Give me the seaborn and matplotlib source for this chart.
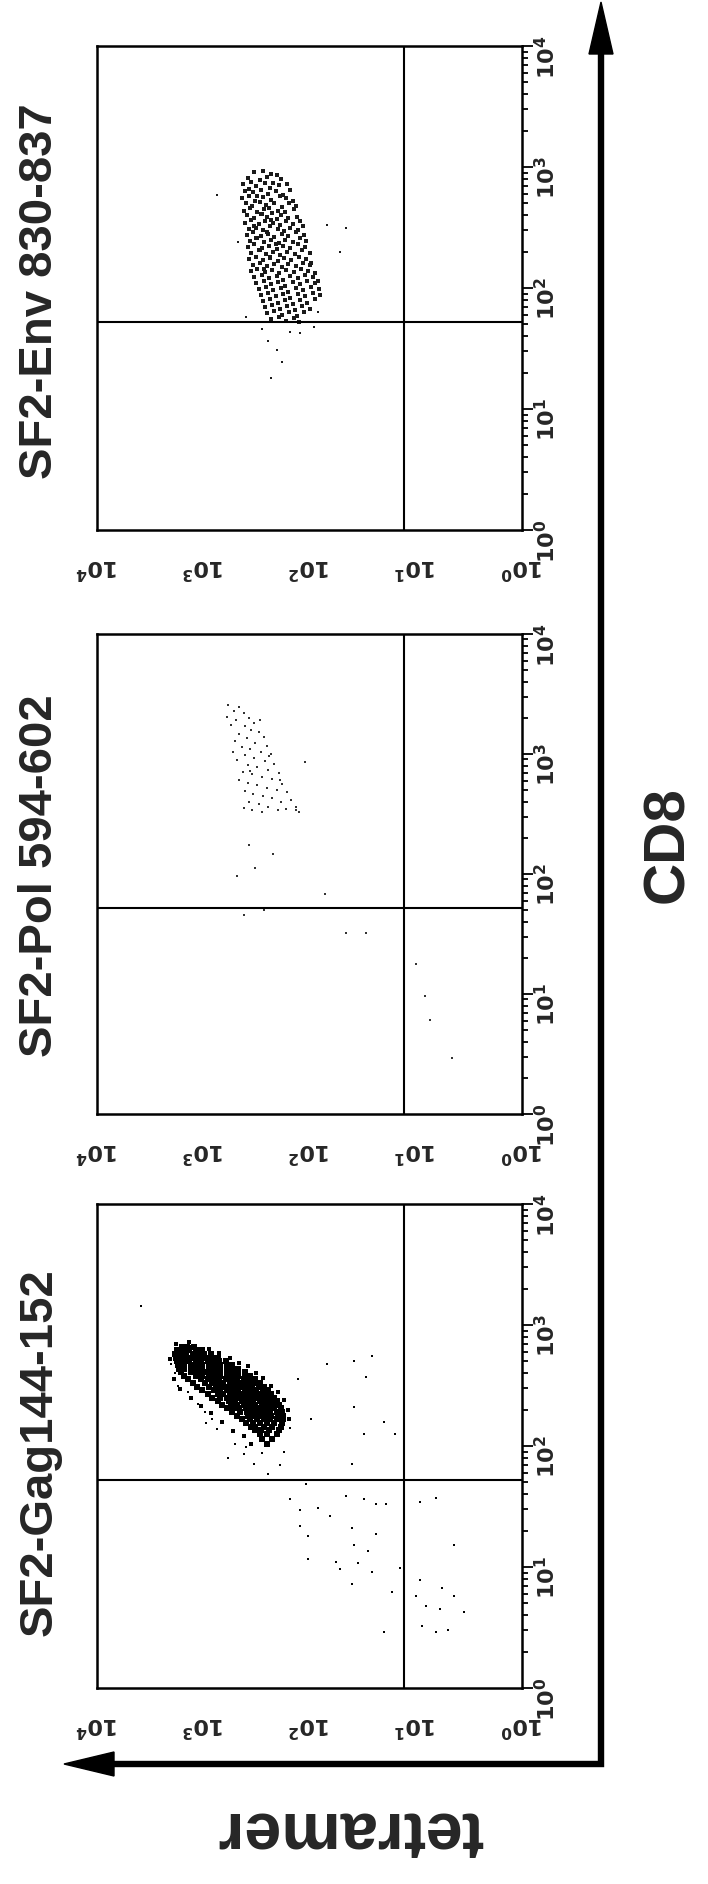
import numpy as np
import pandas as pd
import matplotlib
matplotlib.use("Agg")
import matplotlib.pyplot as plt
import seaborn as sns
from matplotlib.ticker import LogLocator, FuncFormatter, NullFormatter, FixedLocator

# -----------------------------
# data: (log10 tetramer, log10 CD8)
# -----------------------------
titles = ["SF2-Env 830-837", "SF2-Pol 594-602", "SF2-Gag144-152"]
quad_tetramer = 13
quad_cd8 = 52
decades = [0, 1, 2, 3, 4]

env_cluster = [
    (2.52, 2.96), (2.36, 2.94), (2.44, 2.97), (2.31, 2.93),
    (2.58, 2.91), (2.47, 2.89), (2.40, 2.92), (2.27, 2.90), (2.55, 2.88), (2.34, 2.87),
    (2.63, 2.86), (2.50, 2.84), (2.42, 2.87), (2.37, 2.83), (2.29, 2.85), (2.21, 2.86), (2.57, 2.82),
    (2.61, 2.80), (2.53, 2.79), (2.46, 2.81), (2.39, 2.78), (2.32, 2.80), (2.25, 2.77), (2.18, 2.81), (2.49, 2.76),
    (2.64, 2.74), (2.57, 2.76), (2.44, 2.75), (2.36, 2.73), (2.28, 2.76), (2.22, 2.74), (2.51, 2.72), (2.16, 2.72),
    (2.60, 2.70), (2.54, 2.68), (2.47, 2.71), (2.41, 2.69), (2.33, 2.70), (2.26, 2.67), (2.19, 2.70), (2.38, 2.66), (2.13, 2.68),
    (2.62, 2.64), (2.56, 2.66), (2.49, 2.63), (2.43, 2.65), (2.35, 2.62), (2.30, 2.64), (2.23, 2.63), (2.15, 2.65), (2.45, 2.61),
    (2.59, 2.60), (2.52, 2.58), (2.46, 2.61), (2.40, 2.59), (2.31, 2.57), (2.27, 2.60), (2.20, 2.58), (2.12, 2.59), (2.36, 2.56),
    (2.61, 2.54), (2.55, 2.56), (2.48, 2.53), (2.42, 2.55), (2.34, 2.54), (2.28, 2.52), (2.22, 2.55), (2.16, 2.53), (2.09, 2.55), (2.52, 2.51),
    (2.57, 2.49), (2.50, 2.50), (2.44, 2.48), (2.37, 2.51), (2.30, 2.49), (2.24, 2.47), (2.18, 2.50), (2.11, 2.48), (2.06, 2.51), (2.40, 2.46),
    (2.59, 2.44), (2.53, 2.46), (2.46, 2.43), (2.39, 2.45), (2.33, 2.42), (2.26, 2.45), (2.20, 2.43), (2.13, 2.46), (2.05, 2.44), (2.49, 2.41),
    (2.56, 2.39), (2.50, 2.41), (2.43, 2.38), (2.36, 2.40), (2.29, 2.37), (2.23, 2.40), (2.16, 2.38), (2.09, 2.41), (2.03, 2.39), (2.32, 2.36),
    (2.58, 2.34), (2.52, 2.36), (2.45, 2.33), (2.38, 2.35), (2.31, 2.32), (2.25, 2.35), (2.18, 2.33), (2.11, 2.36), (2.04, 2.34), (2.47, 2.31),
    (2.55, 2.29), (2.48, 2.31), (2.41, 2.28), (2.34, 2.30), (2.28, 2.27), (2.21, 2.30), (2.14, 2.28), (2.07, 2.31), (2.00, 2.29), (2.37, 2.26),
    (2.57, 2.24), (2.50, 2.26), (2.44, 2.23), (2.37, 2.25), (2.30, 2.22), (2.24, 2.25), (2.17, 2.23), (2.10, 2.26), (2.03, 2.24), (1.99, 2.21),
    (2.53, 2.19), (2.47, 2.21), (2.40, 2.18), (2.33, 2.20), (2.26, 2.17), (2.20, 2.20), (2.13, 2.18), (2.06, 2.21), (2.00, 2.19), (2.43, 2.16),
    (2.55, 2.14), (2.49, 2.16), (2.42, 2.13), (2.35, 2.15), (2.29, 2.12), (2.22, 2.15), (2.15, 2.13), (2.08, 2.16), (2.01, 2.14), (1.95, 2.12),
    (2.52, 2.09), (2.45, 2.11), (2.38, 2.08), (2.31, 2.10), (2.25, 2.07), (2.18, 2.10), (2.11, 2.08), (2.04, 2.11), (1.97, 2.09), (1.92, 2.06),
    (2.50, 2.04), (2.43, 2.06), (2.36, 2.03), (2.30, 2.05), (2.23, 2.02), (2.16, 2.05), (2.09, 2.03), (2.02, 2.06), (1.95, 2.04),
    (2.48, 1.99), (2.41, 2.01), (2.34, 1.98), (2.27, 2.00), (2.20, 1.97), (2.13, 2.00), (2.06, 1.98), (1.99, 2.01), (1.91, 1.99),
    (2.46, 1.94), (2.39, 1.96), (2.32, 1.93), (2.25, 1.95), (2.18, 1.92), (2.11, 1.95), (2.04, 1.93), (1.97, 1.96), (1.90, 1.94),
    (2.44, 1.89), (2.37, 1.91), (2.30, 1.88), (2.23, 1.90), (2.16, 1.87), (2.09, 1.90), (2.02, 1.88), (1.95, 1.91),
    (2.42, 1.84), (2.35, 1.86), (2.28, 1.83), (2.21, 1.85), (2.14, 1.82), (2.07, 1.85), (2.00, 1.83),
    (2.40, 1.79), (2.33, 1.81), (2.26, 1.78), (2.19, 1.80), (2.12, 1.77), (2.05, 1.80),
    (2.36, 1.74), (2.29, 1.76), (2.22, 1.73), (2.15, 1.75), (2.10, 1.72),
]
env_sparse = [
    (2.87, 2.77), (1.84, 2.52), (1.66, 2.50), (1.71, 2.30), (2.67, 2.38),
    (2.39, 1.56), (2.26, 1.39), (2.36, 1.26), (2.18, 1.64), (2.09, 1.63),
    (1.96, 1.68), (2.45, 1.66), (2.31, 1.49), (1.92, 1.80), (2.60, 1.76),
]

pol_cluster = [
    (2.77, 3.41), (2.66, 3.39), (2.71, 3.36), (2.62, 3.34), (2.78, 3.31), (2.57, 3.30),
    (2.69, 3.28), (2.52, 3.26), (2.74, 3.24), (2.61, 3.23), (2.55, 3.20), (2.48, 3.18),
    (2.66, 3.17), (2.43, 3.14), (2.59, 3.13), (2.70, 3.11), (2.51, 3.09), (2.40, 3.07),
    (2.64, 3.06), (2.56, 3.04), (2.46, 3.02), (2.36, 3.00), (2.61, 2.99), (2.52, 2.97),
    (2.68, 2.95), (2.42, 2.94), (2.33, 2.92), (2.58, 2.91), (2.49, 2.89), (2.39, 2.87),
    (2.63, 2.85), (2.29, 2.84), (2.54, 2.83), (2.45, 2.81), (2.35, 2.79), (2.66, 2.78),
    (2.58, 2.76), (2.26, 2.75), (2.49, 2.74), (2.40, 2.72), (2.31, 2.70), (2.61, 2.69),
    (2.21, 2.68), (2.53, 2.67), (2.44, 2.65), (2.35, 2.63), (2.17, 2.62), (2.27, 2.60),
    (2.57, 2.60), (2.48, 2.58), (2.13, 2.56), (2.39, 2.56), (2.22, 2.54), (2.30, 2.53),
    (2.54, 2.53), (2.10, 2.52), (2.45, 2.52), (2.62, 2.55), (2.72, 3.02), (2.47, 3.28),
    (2.38, 2.98), (2.56, 2.86), (2.28, 2.78),
]
pol_sparse = [
    (2.57, 2.24), (2.34, 2.17), (2.51, 2.05), (2.68, 1.98), (1.85, 1.83),
    (2.62, 1.66), (2.43, 1.70), (1.66, 1.51), (1.47, 1.51), (2.04, 2.93),
    (1.00, 1.25), (0.91, 0.98), (0.87, 0.78), (0.66, 0.47), (2.13, 2.53),
]

# dense Gag blob, one row of tetramer values per CD8 level
gag_core_rows = [
    (2.82, [3.09, 3.15, 3.20]),
    (2.79, [3.01, 3.07, 3.13, 3.19, 3.25]),
    (2.76, [2.93, 2.99, 3.05, 3.10, 3.16, 3.22, 3.27]),
    (2.73, [2.86, 2.92, 2.97, 3.03, 3.09, 3.14, 3.20, 3.26]),
    (2.70, [2.79, 2.85, 2.90, 2.96, 3.02, 3.07, 3.13, 3.19, 3.25]),
    (2.67, [2.73, 2.78, 2.84, 2.90, 2.95, 3.01, 3.07, 3.12, 3.18, 3.24]),
    (2.64, [2.67, 2.72, 2.78, 2.84, 2.89, 2.95, 3.01, 3.06, 3.12, 3.18, 3.23]),
    (2.61, [2.61, 2.67, 2.72, 2.78, 2.84, 2.89, 2.95, 3.00, 3.06, 3.12, 3.21]),
    (2.58, [2.56, 2.61, 2.67, 2.73, 2.78, 2.84, 2.90, 2.95, 3.01, 3.07, 3.18]),
    (2.55, [2.51, 2.57, 2.62, 2.68, 2.74, 2.79, 2.85, 2.91, 2.96, 3.02, 3.14]),
    (2.52, [2.47, 2.52, 2.58, 2.64, 2.69, 2.75, 2.81, 2.86, 2.92, 2.98, 3.10]),
    (2.49, [2.43, 2.48, 2.54, 2.60, 2.65, 2.71, 2.77, 2.82, 2.88, 2.95, 3.06]),
    (2.46, [2.39, 2.44, 2.50, 2.56, 2.61, 2.67, 2.73, 2.78, 2.84, 2.90, 3.01]),
    (2.43, [2.36, 2.41, 2.47, 2.52, 2.58, 2.64, 2.69, 2.75, 2.81, 2.86, 2.96]),
    (2.40, [2.33, 2.38, 2.44, 2.49, 2.55, 2.61, 2.66, 2.72, 2.78, 2.84, 2.92]),
    (2.37, [2.31, 2.36, 2.42, 2.47, 2.53, 2.58, 2.64, 2.70, 2.76, 2.86]),
    (2.34, [2.29, 2.34, 2.40, 2.45, 2.51, 2.56, 2.62, 2.68, 2.74, 2.82]),
    (2.31, [2.27, 2.33, 2.38, 2.44, 2.49, 2.55, 2.60, 2.66, 2.72, 2.78]),
    (2.28, [2.26, 2.31, 2.37, 2.42, 2.48, 2.53, 2.59, 2.65, 2.73]),
    (2.25, [2.25, 2.30, 2.36, 2.41, 2.47, 2.52, 2.58, 2.68]),
    (2.22, [2.25, 2.31, 2.37, 2.43, 2.49, 2.56, 2.64]),
    (2.19, [2.26, 2.33, 2.40, 2.47, 2.53, 2.60]),
    (2.16, [2.27, 2.35, 2.43, 2.51, 2.55]),
    (2.13, [2.29, 2.38, 2.46, 2.51]),
    (2.10, [2.31, 2.40, 2.47]),
    (2.06, [2.35, 2.45]),
    (2.02, [2.40]),
]
# ragged edge of the Gag blob
gag_fringe = [
    (2.95, 2.80), (2.85, 2.77), (2.75, 2.73), (2.66, 2.69), (2.58, 2.66), (2.50, 2.60),
    (2.44, 2.56), (2.36, 2.50), (2.30, 2.45), (2.24, 2.38), (2.20, 2.30), (2.19, 2.22),
    (3.28, 2.55), (3.22, 2.47), (3.12, 2.40), (3.02, 2.33), (2.93, 2.27), (2.82, 2.20),
    (2.72, 2.12), (2.62, 2.08), (2.55, 2.02), (3.31, 2.72), (3.26, 2.84), (3.13, 2.86),
]
gag_sparse = [
    (3.59, 3.16), (3.12, 2.83), (3.01, 2.81), (3.22, 2.67), (3.20, 2.72), (3.16, 2.58),
    (3.27, 2.60), (3.30, 2.68), (3.24, 2.50), (3.14, 2.45), (3.05, 2.35), (2.98, 2.28),
    (2.92, 2.22), (2.87, 2.14), (2.70, 2.02), (2.62, 1.93), (2.45, 1.94),
    (2.97, 2.19), (2.77, 1.90), (2.52, 1.85), (2.60, 1.99), (2.39, 2.09), (2.28, 1.84),
    (2.24, 1.95), (2.35, 2.22), (2.18, 2.15), (2.11, 2.55), (1.99, 2.22), (1.84, 2.68),
    (1.58, 2.70), (1.41, 2.74), (1.47, 2.57), (1.58, 2.32), (1.30, 2.20), (1.49, 2.10),
    (1.20, 2.10), (1.60, 1.85), (2.39, 1.77), (2.03, 1.69), (2.18, 1.56), (2.09, 1.47),
    (1.92, 1.49), (1.81, 1.42), (1.66, 1.59), (1.49, 1.56), (1.37, 1.52), (1.28, 1.52),
    (2.09, 1.34), (2.01, 1.26), (1.60, 1.32), (1.37, 1.27), (1.58, 1.18), (1.45, 1.13),
    (2.01, 1.07), (1.75, 1.04), (1.54, 1.03), (1.71, 0.98), (1.41, 0.96), (1.60, 0.86),
    (1.15, 0.99), (1.22, 0.79), (0.96, 1.54), (0.81, 1.57), (0.64, 1.18), (0.96, 0.89),
    (0.75, 0.83), (0.64, 0.76), (1.00, 0.76), (0.90, 0.68), (0.55, 0.63), (0.77, 0.65),
    (0.94, 0.51), (0.81, 0.46), (0.70, 0.48), (1.30, 0.46),
]
gag_core = [(t, c) for c, row in gag_core_rows for t in row]

# panel boxes in pixels of the 708x1884 page: (top, bottom)
W, H = 708, 1884
box_left, box_right = 97, 522
box_rows = [(46, 530), (634, 1114), (1204, 1688)]
title_y = [291, 876, 1452]

panels = [
    (env_cluster, [], env_sparse, "0.1", 6.0),
    (pol_cluster, [], pol_sparse, "0.2", 4.5),
    (gag_core, gag_fringe, gag_sparse, "black", 19.0),
]

# -----------------------------
# style
# -----------------------------
sns.set_style("white")
plt.rcParams["font.family"] = ["Liberation Sans Narrow", "DejaVu Sans"]
plt.rcParams["font.weight"] = "bold"
plt.rcParams["axes.linewidth"] = 1.8
plt.rcParams["axes.edgecolor"] = "black"

fig = plt.figure(figsize=(W / 100, H / 100), dpi=100)

# overlay in page pixels for the two axis arrows
ov = fig.add_axes([0, 0, 1, 1])
ov.set_xlim(0, W)
ov.set_ylim(H, 0)
ov.axis("off")
corner_x, corner_y = 601, 1764
ov.plot([112, corner_x, corner_x], [corner_y, corner_y, 50], color="black",
        lw=4.6, solid_joinstyle="miter", solid_capstyle="butt")
ov.fill([64, 114, 114], [corner_y, corner_y - 12, corner_y + 12], color="black")
ov.fill([corner_x, corner_x - 12, corner_x + 12], [2, 54, 54], color="black")

log_fmt = FuncFormatter(lambda v, p: r"$\mathregular{10^{%d}}$" % round(np.log10(v)))

for (top, bottom), ty, title, (dense, fringe, sparse, col, dsize) in zip(box_rows, title_y, titles, panels):
    ax = fig.add_axes([box_left / W, 1 - bottom / H, (box_right - box_left) / W, (bottom - top) / H])
    ax.set_xscale("log")
    ax.set_yscale("log")

    for pts, size in ((dense, dsize), (fringe, 8.0), (sparse, 3.5)):
        if not pts:
            continue
        d = pd.DataFrame(pts, columns=["tetramer", "CD8"])
        sns.scatterplot(x=10 ** d["tetramer"], y=10 ** d["CD8"], ax=ax, s=size,
                        marker="s", color=col, linewidth=0)

    ax.axvline(quad_tetramer, color="black", lw=1.5)
    ax.axhline(quad_cd8, color="black", lw=1.5)

    ax.set_xlim(1e4, 1)
    ax.set_ylim(1, 1e4)
    ax.set_xlabel("")
    ax.set_ylabel("")

    major = FixedLocator([10.0 ** d for d in decades])
    for axis in (ax.xaxis, ax.yaxis):
        axis.set_major_locator(major)
        axis.set_minor_locator(LogLocator(base=10, subs=np.arange(2, 10)))
        axis.set_major_formatter(log_fmt)
        axis.set_minor_formatter(NullFormatter())
    ax.yaxis.tick_right()
    ax.tick_params(which="both", direction="out", width=1.3, color="black")
    ax.tick_params(which="major", length=8)
    ax.tick_params(which="minor", length=4)
    ax.tick_params(axis="x", which="major", labelrotation=180, labelsize=16, pad=10)
    ax.tick_params(axis="y", which="major", labelrotation=90, labelsize=16, pad=1)
    ax.tick_params(top=False, left=False)
    for s in ax.spines.values():
        s.set_linewidth(1.8)

    fig.text(40 / W, 1 - ty / H, title, rotation=90, ha="center", va="center",
             fontsize=34, fontweight="bold", family=["Liberation Sans", "DejaVu Sans"])

fig.text(668 / W, 1 - 845 / H, "CD8", rotation=90, ha="center", va="center",
         fontsize=42, fontweight="bold", family=["Liberation Sans", "DejaVu Sans"])
fig.text(350 / W, 1 - 1830 / H, "tetramer", rotation=180, ha="center", va="center",
         fontsize=48, fontweight="bold", family=["Liberation Sans", "DejaVu Sans"])

fig.savefig("out.png", dpi=100)
